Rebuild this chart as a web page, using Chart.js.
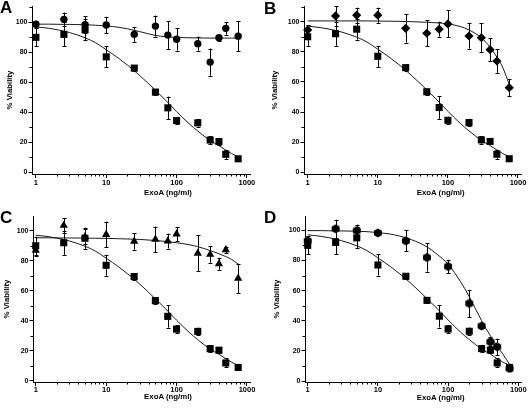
<!DOCTYPE html>
<html><head><meta charset="utf-8">
<script src="https://cdn.jsdelivr.net/npm/chart.js@4.4.1/dist/chart.umd.min.js"></script>
<style>
html,body{margin:0;padding:0;background:#fff;}
#wrap{position:relative;width:528px;height:408px;overflow:hidden;font-family:"Liberation Sans",Arial,sans-serif;background:#fff;}
.panel{position:absolute;width:264px;height:204px;}
.panel canvas{position:absolute;left:0;top:0;}
.letter{position:absolute;font-weight:bold;font-size:17px;line-height:17px;color:#000;}
.xt{position:absolute;font-weight:bold;font-size:7.8px;line-height:9px;color:#000;white-space:nowrap;transform:translate(-50%,-50%);}
</style></head>
<body><div id="wrap"></div>
<script>
// ---------- data ----------
const doses = [1, 2.5, 5, 10, 25, 50, 75, 100, 200, 300, 400, 500, 750];
const squareMean = [90, 92, 95, 77, 69.5, 53.5, 43, 34.5, 33, 21.5, 20.5, 12, 9];
const squareErr  = [6, 8, 7, 7, 2, 2, 7.5, 2.5, 2.5, 2.5, 2, 3, 1.5];
const circleMean = [98.7, 102, 98.5, 98.2, 92, 97.5, 91.5, 88.7, 85.8, 73.5, 89.7, 96, 90.8];
const circleErr  = [1.5, 4.5, 5.5, 5.5, 5, 7, 9.4, 7.5, 4.7, 9, 2, 4.2, 10];
const diamondMean = [94.5, 103.8, 104.3, 104.3, 95.6, 92.3, 95, 98.5, 90.5, 89.4, 81.4, 73.9, 56.2];
const diamondErr  = [3, 6.5, 5, 5, 9.5, 8.6, 5, 9, 8.4, 9.4, 7.5, 7.8, 5.8];
const triangleMean = [87, 103.5, 96, 97.5, 93, 94.3, 93.1, 97.8, 85, 84.2, 78, 87.3, 68.3];
const triangleErr  = [4, 5, 5, 8.5, 5.5, 8.5, 5, 4.8, 12, 5.5, 4, 2.2, 9.7];
const hexDoses = [1, 2.5, 5, 10, 25, 50, 100, 200, 300, 400, 500, 750];
const hexMean  = [93, 101, 99.8, 98.3, 93, 82, 76, 51.5, 36.5, 26, 22.7, 8.3];
const hexErr   = [3, 6, 4, 1.5, 7, 9.4, 4.5, 9, 1.5, 3, 5.5, 1.5];

// fitted curves at these doses
const fitDoses    = [1, 1.5, 2, 3, 5, 7, 10, 15, 20, 30, 50, 70, 100, 150, 200, 300, 400, 500, 600, 750];
const squareFit   = [97, 96.1, 95.1, 93.2, 89.7, 86.5, 81.7, 76, 71.5, 64.5, 54.7, 48, 40.5, 32.5, 27.5, 21.2, 17.8, 14.8, 12.6, 10.3];
const circleFit   = [98.8, 98.8, 98.7, 98.6, 98.4, 98.1, 97.6, 96.7, 95.7, 93.8, 91.3, 90.4, 89.9, 89.7, 89.6, 89.5, 89.5, 89.5, 89.5, 89.5];
const diamondFit  = [100.5, 100.5, 100.5, 100.5, 100.5, 100.5, 100.4, 100.3, 100.2, 100, 99.6, 99.2, 98.5, 96.8, 94.5, 89.3, 83, 76.5, 70, 58.5];
const triangleFit = [95.3, 95.3, 95.2, 95.2, 95.1, 95, 94.9, 94.7, 94.5, 94.2, 93.5, 92.9, 92, 90.7, 89.4, 86.8, 84.7, 82.8, 81, 77.8];
const hexFit      = [99.8, 99.8, 99.7, 99.6, 99.4, 99.1, 98.5, 97.5, 96.3, 93.8, 89, 84, 77.5, 66, 56, 40, 30, 23, 18, 11];

const xTickValues = [1, 10, 100, 1000];
const yTickValues = [0, 20, 40, 60, 80, 100];
const panelLetters = ['A', 'B', 'C', 'D'];
const xTitle = 'ExoA (ng/ml)';
const yTitle = '% Viability';

// ---------- layout / style ----------
const FONT = '"Liberation Sans", Arial, sans-serif';
const panels = [
  {left:0,   top:0,   L:32, R:250, T:6,  B:174, xMin:0.88,  xMax:1105, yMin:-1.13, yMax:110.9, yTitlePad:5,   titleX:168,   titleY:192.3, letterTop:-1.2, xPad:0},
  {left:264, top:0,   L:40, R:257, T:6,  B:174, xMin:0.886, xMax:1104, yMin:-1.13, yMax:110.4, yTitlePad:6,   titleX:176.7, titleY:192.3, letterTop:-0.5, xPad:0},
  {left:0,   top:204, L:33, R:250, T:12, B:178, xMin:0.915, xMax:1104, yMin:-0.67, yMax:109.8, yTitlePad:2.5, titleX:168,   titleY:192.3, letterTop:4.5, xPad:-1},
  {left:264, top:204, L:41, R:257, T:12, B:178, xMin:0.915, xMax:1092, yMin:-0.66, yMax:109.5, yTitlePad:8.3, titleX:176.7, titleY:193.3, letterTop:4.5, xPad:-1}
];

function hexImage() {
  const c = document.createElement('canvas');
  c.width = 10; c.height = 10;
  const g = c.getContext('2d');
  g.fillStyle = '#000';
  g.beginPath();
  for (let i = 0; i < 6; i++) {
    const a = Math.PI / 6 + i * Math.PI / 3;
    const px = 5 + 4.6 * Math.cos(a), py = 5 + 4.6 * Math.sin(a);
    if (i === 0) g.moveTo(px, py); else g.lineTo(px, py);
  }
  g.closePath(); g.fill();
  return c;
}

const zip = (xs, ys) => xs.map((x, i) => ({x: x, y: ys[i]}));

function markers(xs, ys, errs, style, radius) {
  return {type: 'scatter', data: zip(xs, ys), errors: errs, pointStyle: style, pointRadius: radius,
    pointHoverRadius: radius, backgroundColor: '#000', borderColor: '#000', borderWidth: 0, order: 1, clip: false};
}
function curve(ys) {
  return {type: 'scatter', data: zip(fitDoses, ys), showLine: true, pointRadius: 0, borderColor: '#1a1a1a',
    borderWidth: 1, cubicInterpolationMode: 'monotone', order: 3, clip: false};
}

const series = [
  [curve(squareFit), curve(circleFit), markers(doses, squareMean, squareErr, 'rect', 5), markers(doses, circleMean, circleErr, 'circle', 3.7)],
  [curve(squareFit), curve(diamondFit), markers(doses, squareMean, squareErr, 'rect', 5), markers(doses, diamondMean, diamondErr, 'rectRot', 4.6)],
  [curve(squareFit), curve(triangleFit), markers(doses, squareMean, squareErr, 'rect', 5), markers(doses, triangleMean, triangleErr, 'triangle', 4.8)],
  [curve(squareFit), curve(hexFit), markers(doses, squareMean, squareErr, 'rect', 5), markers(hexDoses, hexMean, hexErr, hexImage(), 4.6)]
];

const errorBarPlugin = {
  id: 'errorBars',
  beforeDatasetsDraw(chart) {
    const ctx = chart.ctx, ys = chart.scales.y;
    ctx.save();
    ctx.strokeStyle = '#000'; ctx.lineWidth = 1;
    chart.data.datasets.forEach((ds, i) => {
      if (!ds.errors) return;
      const meta = chart.getDatasetMeta(i);
      meta.data.forEach((el, j) => {
        const v = ds.data[j].y, e = ds.errors[j];
        const x = Math.round(el.x) + 0.5;
        const t = ys.getPixelForValue(v + e), b = ys.getPixelForValue(v - e);
        ctx.beginPath();
        ctx.moveTo(x, t); ctx.lineTo(x, b);
        ctx.moveTo(x - 2, Math.round(t) + 0.5); ctx.lineTo(x + 2, Math.round(t) + 0.5);
        ctx.moveTo(x - 2, Math.round(b) + 0.5); ctx.lineTo(x + 2, Math.round(b) + 0.5);
        ctx.stroke();
      });
    });
    ctx.restore();
  }
};

const minorTickPlugin = {
  id: 'minorTicks',
  afterDraw(chart) {
    const ctx = chart.ctx, xs = chart.scales.x, ys = chart.scales.y, a = chart.chartArea;
    ctx.save();
    ctx.strokeStyle = '#000'; ctx.lineWidth = 1;
    ctx.beginPath();
    for (let k = 0; k < 3; k++) {
      for (let m = 2; m <= 9; m++) {
        const v = m * Math.pow(10, k);
        const px = Math.round(xs.getPixelForValue(v)) + 0.5;
        ctx.moveTo(px, a.bottom); ctx.lineTo(px, a.bottom + 2.5);
      }
    }
    [10, 30, 50, 70, 90, 110].forEach(v => {
      if (v > ys.max) return;
      const py = Math.round(ys.getPixelForValue(v)) + 0.5;
      ctx.moveTo(a.left, py); ctx.lineTo(a.left - 2.5, py);
    });
    ctx.stroke();
    ctx.restore();
  }
};

const wrap = document.getElementById('wrap');
panels.forEach((p, idx) => {
  const div = document.createElement('div');
  div.className = 'panel';
  div.style.left = p.left + 'px'; div.style.top = p.top + 'px';
  const cv = document.createElement('canvas');
  cv.width = 264; cv.height = 204;
  div.appendChild(cv);
  const letter = document.createElement('div');
  letter.className = 'letter';
  letter.textContent = panelLetters[idx];
  letter.style.left = '0px'; letter.style.top = p.letterTop + 'px';
  div.appendChild(letter);
  const xt = document.createElement('div');
  xt.className = 'xt';
  xt.textContent = xTitle;
  xt.style.left = p.titleX + 'px'; xt.style.top = p.titleY + 'px';
  div.appendChild(xt);
  wrap.appendChild(div);

  new Chart(cv, {
    type: 'scatter',
    data: {datasets: series[idx]},
    plugins: [errorBarPlugin, minorTickPlugin],
    options: {
      responsive: false, animation: false, devicePixelRatio: 1,
      layout: {autoPadding: false, padding: {left: 0, top: p.T, right: 264 - p.R, bottom: 0}},
      plugins: {legend: {display: false}, tooltip: {enabled: false}},
      events: [],
      scales: {
        x: {
          type: 'logarithmic', position: 'bottom', min: p.xMin, max: p.xMax,
          afterBuildTicks: s => { s.ticks = xTickValues.map(v => ({value: v})); },
          afterFit: s => { s.height = 204 - p.B; },
          ticks: {color: '#000', font: {family: FONT, size: 7.5, weight: 'bold'}, padding: p.xPad,
                  maxRotation: 0, autoSkip: false, callback: v => String(v)},
          grid: {drawOnChartArea: false, drawTicks: true, tickLength: 4, color: '#000', tickColor: '#000'},
          border: {display: true, color: '#000', width: 1},
          title: {display: false}
        },
        y: {
          type: 'linear', position: 'left', min: p.yMin, max: p.yMax,
          afterBuildTicks: s => { s.ticks = yTickValues.map(v => ({value: v})); },
          afterFit: s => { s.width = p.L; },
          ticks: {color: '#000', font: {family: FONT, size: 7, weight: 'bold'}, padding: 1,
                  autoSkip: false, callback: v => String(v)},
          grid: {drawOnChartArea: false, drawTicks: true, tickLength: 3.5, color: '#000', tickColor: '#000'},
          border: {display: true, color: '#000', width: 1},
          title: {display: true, text: yTitle, color: '#000', font: {family: FONT, size: 7.8, weight: 'bold'},
                  padding: {top: p.yTitlePad, bottom: 0}}
        }
      }
    }
  });
});
</script>
</body></html>
